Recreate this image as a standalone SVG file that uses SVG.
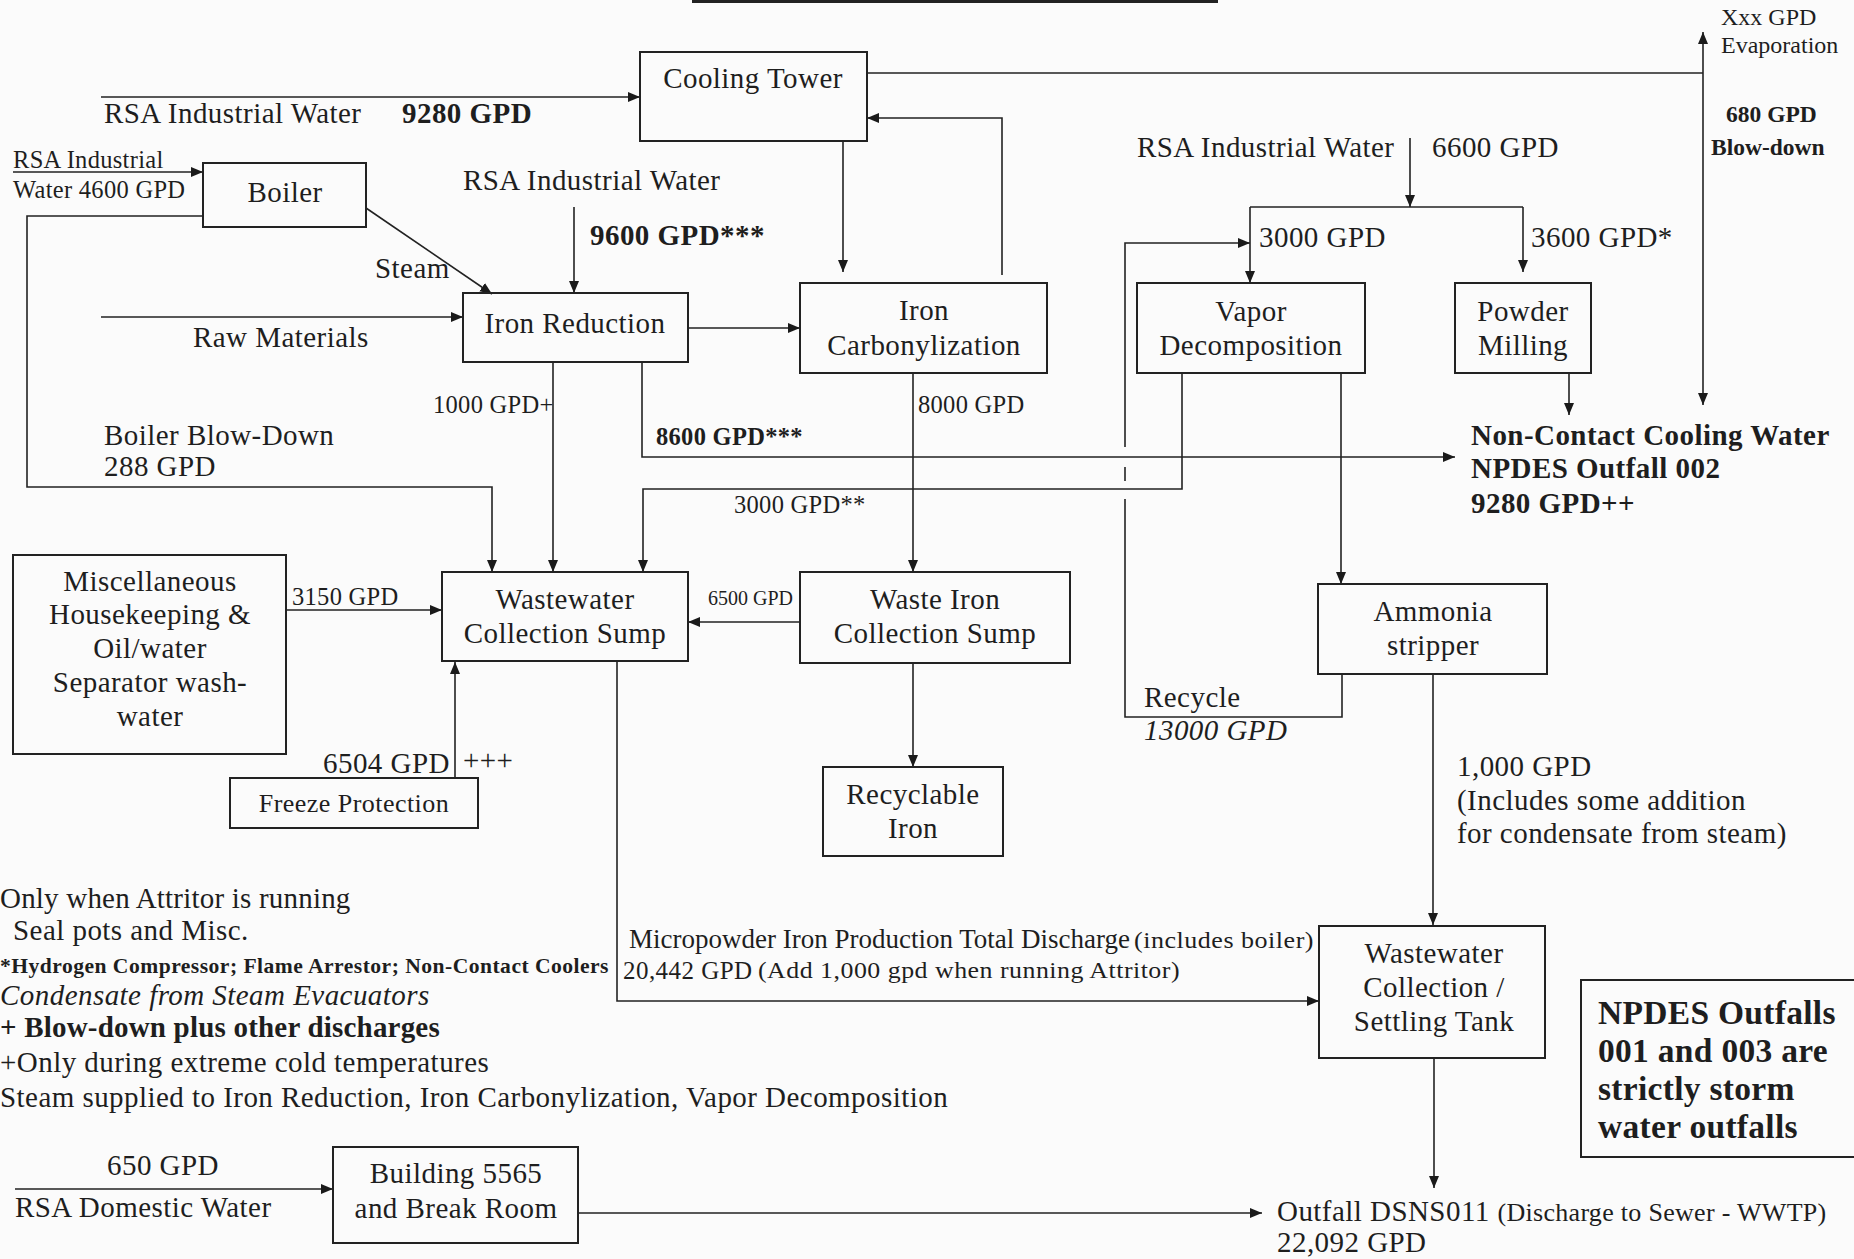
<svg xmlns="http://www.w3.org/2000/svg" width="1854" height="1259" viewBox="0 0 1854 1259">
<style>
.bg{fill:#fbfbfb}
.n{fill:none;stroke:#222;stroke-width:2}
.c{fill:none;stroke:#222;stroke-width:1.6}
.t{font-family:"Liberation Serif","Times New Roman",serif;fill:#1e1e1e;font-size:29px;letter-spacing:0.45px}
.s{font-size:24.5px;letter-spacing:0.3px}
.xs{font-size:20px;letter-spacing:0}
.b{font-weight:bold}
.i{font-style:italic}
.m{text-anchor:middle}
</style>
<defs>
<marker id="ah" viewBox="0 0 12 10" refX="12" refY="5" markerWidth="12" markerHeight="10" markerUnits="userSpaceOnUse" orient="auto-start-reverse">
<path d="M0,0 L12,5 L0,10 z" fill="#1a1a1a"/>
</marker>
</defs>
<rect class="bg" x="0" y="0" width="1854" height="1259"/>
<line x1="692" y1="1.5" x2="1218" y2="1.5" stroke="#222" stroke-width="3"/>

<g id="connectors">
<path class="c" d="M101,97 H640" marker-end="url(#ah)"/>
<path class="c" d="M867,73 H1703"/>
<path class="c" d="M1703,32 V405" marker-start="url(#ah)" marker-end="url(#ah)"/>
<path class="c" d="M1002,275 V118 H867" marker-end="url(#ah)"/>
<path class="c" d="M843,141 V272" marker-end="url(#ah)"/>
<path class="c" d="M13,172 H203" marker-end="url(#ah)"/>
<path class="c" d="M203,216 H27 V487 H492 V572" marker-end="url(#ah)"/>
<path class="c" d="M366,208 L492,294" marker-end="url(#ah)"/>
<path class="c" d="M574,207 V293" marker-end="url(#ah)"/>
<path class="c" d="M101,317 H463" marker-end="url(#ah)"/>
<path class="c" d="M688,328 H800" marker-end="url(#ah)"/>
<path class="c" d="M553,363 V572" marker-end="url(#ah)"/>
<path class="c" d="M642,362 V457 H1455" marker-end="url(#ah)"/>
<path class="c" d="M1182,373 V489 H643 V572" marker-end="url(#ah)"/>
<path class="c" d="M913,373 V572" marker-end="url(#ah)"/>
<path class="c" d="M800,622 H688" marker-end="url(#ah)"/>
<path class="c" d="M286,610 H442" marker-end="url(#ah)"/>
<path class="c" d="M455,778 V662" marker-end="url(#ah)"/>
<path class="c" d="M913,663 V767" marker-end="url(#ah)"/>
<path class="c" d="M1341,373 V584" marker-end="url(#ah)"/>
<path class="c" d="M1342,674 V717 H1125 V499"/>
<path class="c" d="M1125,481 V467"/>
<path class="c" d="M1125,447 V243 H1250"  marker-end="url(#ah)"/>
<path class="c" d="M1410,138 V207" marker-end="url(#ah)"/>
<path class="c" d="M1250,207 H1523"/>
<path class="c" d="M1250,207 V283" marker-end="url(#ah)"/>
<path class="c" d="M1523,207 V272" marker-end="url(#ah)"/>
<path class="c" d="M1569,373 V415" marker-end="url(#ah)"/>
<path class="c" d="M1433,674 V925" marker-end="url(#ah)"/>
<path class="c" d="M617,661 V1001 H1319" marker-end="url(#ah)"/>
<path class="c" d="M1434,1058 V1188" marker-end="url(#ah)"/>
<path class="c" d="M15,1189 H333" marker-end="url(#ah)"/>
<path class="c" d="M578,1213 H1262" marker-end="url(#ah)"/>
</g>

<g id="cooling-tower"><rect class="n" x="640" y="52" width="227" height="89"/><text class="t m" x="753" y="88">Cooling Tower</text></g>
<g id="boiler"><rect class="n" x="203" y="163" width="163" height="64"/><text class="t m" x="285" y="202">Boiler</text></g>
<g id="iron-reduction"><rect class="n" x="463" y="293" width="225" height="69"/><text class="t m" x="575" y="333">Iron Reduction</text></g>
<g id="iron-carbonylization"><rect class="n" x="800" y="283" width="247" height="90"/><text class="t m" x="924" y="320">Iron</text><text class="t m" x="924" y="355">Carbonylization</text></g>
<g id="vapor-decomposition"><rect class="n" x="1137" y="283" width="228" height="90"/><text class="t m" x="1251" y="321">Vapor</text><text class="t m" x="1251" y="355">Decomposition</text></g>
<g id="powder-milling"><rect class="n" x="1455" y="283" width="136" height="90"/><text class="t m" x="1523" y="321">Powder</text><text class="t m" x="1523" y="355">Milling</text></g>
<g id="misc"><rect class="n" x="13" y="555" width="273" height="199"/>
<text class="t m" x="150" y="591">Miscellaneous</text><text class="t m" x="150" y="624">Housekeeping &amp;</text><text class="t m" x="150" y="658">Oil/water</text><text class="t m" x="150" y="692">Separator  wash-</text><text class="t m" x="150" y="726">water</text></g>
<g id="wastewater-sump"><rect class="n" x="442" y="572" width="246" height="89"/><text class="t m" x="565" y="609">Wastewater</text><text class="t m" x="565" y="643">Collection Sump</text></g>
<g id="waste-iron-sump"><rect class="n" x="800" y="572" width="270" height="91"/><text class="t m" x="935" y="609">Waste Iron</text><text class="t m" x="935" y="643">Collection Sump</text></g>
<g id="freeze-protection"><rect class="n" x="230" y="778" width="248" height="50"/><text class="t m" x="354" y="812" style="font-size:26px">Freeze Protection</text></g>
<g id="recyclable-iron"><rect class="n" x="823" y="767" width="180" height="89"/><text class="t m" x="913" y="804">Recyclable</text><text class="t m" x="913" y="838">Iron</text></g>
<g id="ammonia-stripper"><rect class="n" x="1318" y="584" width="229" height="90"/><text class="t m" x="1433" y="621">Ammonia</text><text class="t m" x="1433" y="655">stripper</text></g>
<g id="settling-tank"><rect class="n" x="1319" y="926" width="226" height="132"/><text class="t m" x="1434" y="963">Wastewater</text><text class="t m" x="1434" y="997">Collection /</text><text class="t m" x="1434" y="1031">Settling Tank</text></g>
<g id="building-5565"><rect class="n" x="333" y="1147" width="245" height="96"/><text class="t m" x="456" y="1183">Building 5565</text><text class="t m" x="456" y="1218">and Break Room</text></g>
<g id="npdes-note"><rect class="n" x="1581" y="980" width="290" height="177"/>
<text class="t b" x="1598" y="1024" style="font-size:33.5px;letter-spacing:0.3px">NPDES Outfalls</text><text class="t b" x="1598" y="1062" style="font-size:33.5px;letter-spacing:0.3px">001 and 003 are</text><text class="t b" x="1598" y="1100" style="font-size:33.5px;letter-spacing:0.3px">strictly storm</text><text class="t b" x="1598" y="1138" style="font-size:33.5px;letter-spacing:0.3px">water outfalls</text></g>

<g id="labels">
<text class="t" x="104" y="123">RSA Industrial Water</text>
<text class="t b" x="402" y="123">9280 GPD</text>
<text class="t s" x="13" y="168">RSA Industrial</text>
<text class="t s" x="13" y="198">Water 4600 GPD</text>
<text class="t" x="375" y="278">Steam</text>
<text class="t" x="463" y="190">RSA Industrial Water</text>
<text class="t b" x="590" y="245">9600 GPD***</text>
<text class="t" x="193" y="347">Raw Materials</text>
<text class="t s" x="433" y="413">1000 GPD+</text>
<text class="t s" x="918" y="413">8000 GPD</text>
<text class="t s b" x="656" y="445">8600 GPD***</text>
<text class="t" x="104" y="445">Boiler Blow-Down</text>
<text class="t" x="104" y="476">288 GPD</text>
<text class="t s" x="734" y="513">3000 GPD**</text>
<text class="t s" x="292" y="605">3150 GPD</text>
<text class="t xs" x="708" y="605">6500 GPD</text>
<text class="t" x="323" y="773">6504 GPD</text>
<text class="t" x="463" y="770">+++</text>
<text class="t" x="1144" y="707">Recycle</text>
<text class="t i" x="1144" y="740">13000 GPD</text>
<text class="t" x="1457" y="776">1,000 GPD</text>
<text class="t" x="1457" y="810">(Includes some addition</text>
<text class="t" x="1457" y="843">for condensate from steam)</text>
<text class="t" x="629" y="948" style="font-size:27px;letter-spacing:0">Micropowder Iron Production Total Discharge</text>
<text class="t" x="1134" y="948" style="font-size:23px" textLength="180" lengthAdjust="spacingAndGlyphs">(includes boiler)</text>
<text class="t" x="623" y="979" style="font-size:25px">20,442 GPD</text>
<text class="t" x="758" y="978" style="font-size:24px" textLength="422" lengthAdjust="spacingAndGlyphs">(Add 1,000 gpd when running Attritor)</text>
<text class="t" x="1721" y="25" style="font-size:24px;letter-spacing:0">Xxx GPD</text>
<text class="t" x="1721" y="53" style="font-size:24px;letter-spacing:0">Evaporation</text>
<text class="t b" x="1726" y="122" style="font-size:23.5px;letter-spacing:0">680 GPD</text>
<text class="t b" x="1711" y="155" style="font-size:23.5px;letter-spacing:0">Blow-down</text>
<text class="t" x="1137" y="157">RSA Industrial Water</text>
<text class="t" x="1432" y="157">6600 GPD</text>
<text class="t" x="1259" y="247">3000 GPD</text>
<text class="t" x="1531" y="247">3600 GPD*</text>
<text class="t b" x="1471" y="445">Non-Contact Cooling Water</text>
<text class="t b" x="1471" y="478">NPDES Outfall 002</text>
<text class="t b" x="1471" y="513">9280 GPD++</text>
<text class="t" x="0" y="908" style="letter-spacing:0.2px">Only when Attritor is running</text>
<text class="t" x="13" y="940">Seal pots and Misc.</text>
<text class="t b" x="0" y="973" style="font-size:21px" textLength="609" lengthAdjust="spacingAndGlyphs">*Hydrogen Compressor; Flame Arrestor; Non-Contact Coolers</text>
<text class="t i" x="0" y="1005">Condensate from Steam Evacuators</text>
<text class="t b" x="0" y="1037" style="letter-spacing:0.2px">+ Blow-down plus other discharges</text>
<text class="t" x="0" y="1072">+Only during extreme cold temperatures</text>
<text class="t" x="0" y="1107">Steam supplied to Iron Reduction, Iron Carbonylization, Vapor Decomposition</text>
<text class="t" x="107" y="1175">650 GPD</text>
<text class="t" x="15" y="1217">RSA Domestic Water</text>
<text class="t" x="1277" y="1221">Outfall DSNS011 <tspan style="font-size:26px;letter-spacing:0.3px">(Discharge to Sewer - WWTP)</tspan></text>
<text class="t" x="1277" y="1252">22,092 GPD</text>
</g>
</svg>
